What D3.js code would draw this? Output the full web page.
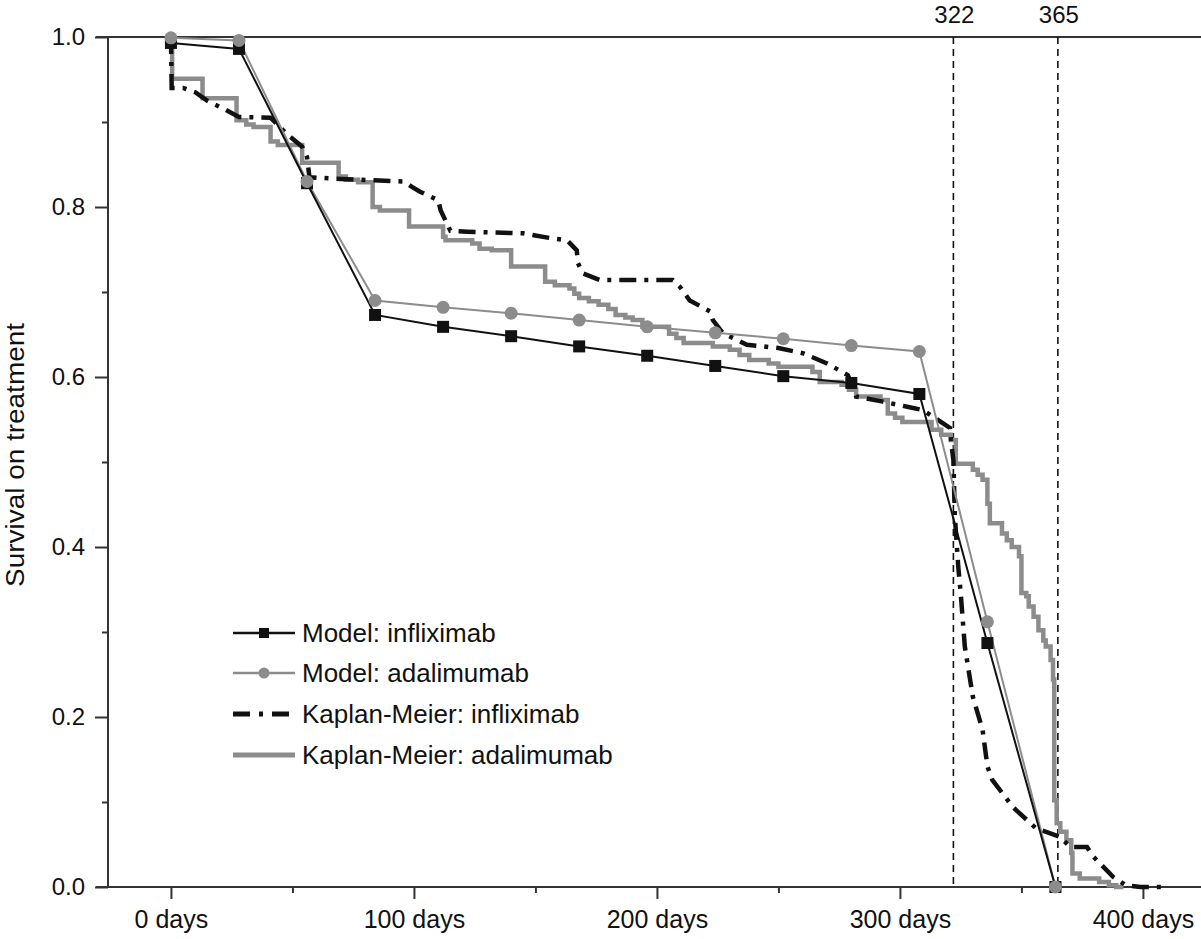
<html>
  <head>
    <script src="https://d3js.org/d3.v7.min.js"></script>
    <style>
      body { margin: 0; background: #fff; }
      text { font-family: "Liberation Sans", Arial, sans-serif; fill: #111; }
    </style>
  </head>
  <body>
    <div id="vis"></div>
    <script>
      // Model visits, every 28 days
      var modelDays = [0, 28, 56, 84, 112, 140, 168, 196, 224, 252, 280, 308, 336, 364];
      var modelInflix = [0.993, 0.986, 0.828, 0.673, 0.659, 0.648, 0.636, 0.625, 0.613, 0.601, 0.593, 0.580, 0.287, 0];
      var modelAdali = [0.999, 0.996, 0.830, 0.690, 0.682, 0.675, 0.667, 0.659, 0.652, 0.645, 0.637, 0.630, 0.312, 0];

      // Kaplan-Meier infliximab (day, survival)
      var kmInflixDays = [0, 0.3, 5, 10, 15, 20, 28, 41, 48, 54, 56, 57, 70, 96, 99, 102.5, 110, 111, 115, 122, 145, 157, 163, 167, 167.5, 169.5, 176.5, 206.5, 209.5, 213.5, 222, 223, 227, 237, 250, 260, 270, 278.6, 282, 293, 303, 309.5, 317, 320.6, 321, 322, 322.6, 324, 325, 326.7, 330, 334, 336, 338, 346.5, 356, 366, 370, 377, 379.5, 387.7, 393, 399, 410];
      var kmInflixSurv = [1.0, 0.94, 0.94, 0.935, 0.925, 0.918, 0.906, 0.905, 0.885, 0.871, 0.859, 0.835, 0.833, 0.830, 0.824, 0.818, 0.808, 0.796, 0.772, 0.771, 0.769, 0.763, 0.761, 0.749, 0.734, 0.722, 0.714, 0.714, 0.706, 0.690, 0.677, 0.667, 0.652, 0.638, 0.634, 0.628, 0.616, 0.602, 0.577, 0.571, 0.565, 0.561, 0.547, 0.540, 0.526, 0.502, 0.436, 0.377, 0.346, 0.283, 0.224, 0.185, 0.142, 0.126, 0.094, 0.069, 0.059, 0.047, 0.047, 0.036, 0.012, 0.002, 0, 0];

      // Kaplan-Meier adalimumab (event day, survival after the step)
      var kmAdaliDays = [0, 0.5, 13, 27, 31, 34, 41, 44, 54, 69, 72, 77, 83, 86, 98, 112, 113, 124, 127, 132, 140, 154, 158, 164, 166, 168, 172, 176, 180, 183, 187, 190, 194, 205, 208, 211, 223, 230, 234, 238, 246, 250, 264, 267, 276, 279, 282, 292, 295, 298, 301, 313, 317, 321, 323, 330, 332, 334, 336, 337, 342, 344, 346, 349, 350, 352, 353, 355, 357, 359, 360, 362, 363, 363.5, 364.5, 366, 368.5, 370.5, 371, 374, 382, 386, 389, 392];
      var kmAdaliSurv = [1.0, 0.951, 0.928, 0.902, 0.897, 0.894, 0.877, 0.873, 0.852, 0.836, 0.832, 0.829, 0.800, 0.796, 0.777, 0.765, 0.761, 0.757, 0.751, 0.749, 0.730, 0.712, 0.708, 0.704, 0.698, 0.693, 0.689, 0.685, 0.680, 0.673, 0.670, 0.667, 0.659, 0.651, 0.646, 0.640, 0.636, 0.632, 0.626, 0.620, 0.616, 0.612, 0.606, 0.594, 0.591, 0.585, 0.577, 0.573, 0.557, 0.552, 0.547, 0.538, 0.532, 0.526, 0.498, 0.491, 0.485, 0.479, 0.451, 0.428, 0.416, 0.408, 0.400, 0.389, 0.346, 0.342, 0.330, 0.318, 0.302, 0.290, 0.283, 0.267, 0.244, 0.102, 0.075, 0.065, 0.055, 0.040, 0.016, 0.010, 0.006, 0.002, 0, 0];

      var xMajor = [0, 100, 200, 300, 400];
      var xMinor = [50, 150, 250, 350];
      var yMajor = [0, 0.2, 0.4, 0.6, 0.8, 1.0];
      var yMinor = [0.1, 0.3, 0.5, 0.7, 0.9];
      var markDays = [322, 365];

      var legendLabels = ["Model: infliximab", "Model: adalimumab", "Kaplan-Meier: infliximab", "Kaplan-Meier: adalimumab"];

      var width = 1201, height = 939;
      var plotLeft = 108, plotTop = 37, plotBottom = 887, plotRight = 1201;

      var svg = d3.select("#vis").append("svg")
        .attr("width", width)
        .attr("height", height);

      var x = d3.scaleLinear().domain([-25.9, 423.9]).range([plotLeft, plotRight]);
      var y = d3.scaleLinear().domain([0, 1]).range([plotBottom, plotTop]);

      var axisColor = "#333";

      // x axis ticks
      var gx = svg.append("g").attr("transform", "translate(0," + plotBottom + ")");
      gx.call(d3.axisBottom(x).tickValues(xMajor).tickSize(12).tickSizeOuter(0).tickPadding(11)
        .tickFormat(function (d) { return d + " days"; }));
      gx.append("g").call(d3.axisBottom(x).tickValues(xMinor).tickSize(6).tickSizeOuter(0).tickFormat(""));

      // y axis ticks
      var gy = svg.append("g").attr("transform", "translate(" + plotLeft + ",0)");
      gy.call(d3.axisLeft(y).tickValues(yMajor).tickSize(13).tickSizeOuter(0).tickPadding(10)
        .tickFormat(d3.format(".1f")));
      gy.append("g").call(d3.axisLeft(y).tickValues(yMinor).tickSize(6).tickSizeOuter(0).tickFormat(""));

      svg.selectAll(".domain").remove();
      svg.selectAll(".tick line").attr("stroke", axisColor).attr("stroke-width", 2);
      svg.selectAll(".tick text").attr("fill", "#111").style("font-size", "25px")
        .style("font-family", '"Liberation Sans", Arial, sans-serif');
      gy.selectAll(".tick text").style("font-size", "24px");

      // frame lines
      svg.append("line").attr("x1", 96).attr("x2", plotRight).attr("y1", plotBottom).attr("y2", plotBottom)
        .attr("stroke", axisColor).attr("stroke-width", 2);
      svg.append("line").attr("x1", 96).attr("x2", plotRight).attr("y1", plotTop).attr("y2", plotTop)
        .attr("stroke", axisColor).attr("stroke-width", 2);
      svg.append("line").attr("x1", plotLeft).attr("x2", plotLeft).attr("y1", plotTop).attr("y2", plotBottom)
        .attr("stroke", axisColor).attr("stroke-width", 2);

      // y label
      svg.append("text")
        .attr("transform", "translate(24,455) rotate(-90)")
        .attr("text-anchor", "middle")
        .attr("textLength", 264)
        .attr("lengthAdjust", "spacingAndGlyphs")
        .style("font-size", "25px")
        .text("Survival on treatment");

      // reference lines at 322 and 365 days
      svg.selectAll(".mark").data(markDays).enter().append("line")
        .attr("x1", function (d) { return x(d); })
        .attr("x2", function (d) { return x(d); })
        .attr("y1", plotTop).attr("y2", plotBottom)
        .attr("stroke", "#111").attr("stroke-width", 1.6)
        .attr("stroke-dasharray", "7,5");
      svg.selectAll(".marklab").data(markDays).enter().append("text")
        .attr("x", function (d) { return x(d) + 1; })
        .attr("y", 23)
        .attr("text-anchor", "middle")
        .style("font-size", "24px")
        .text(function (d) { return d; });

      var line = d3.line()
        .x(function (d) { return x(d[0]); })
        .y(function (d) { return y(d[1]); });

      var kmAdali = kmAdaliDays.map(function (d, i) { return [d, kmAdaliSurv[i]]; });
      var kmInflix = kmInflixDays.map(function (d, i) { return [d, kmInflixSurv[i]]; });
      var mInflix = modelDays.map(function (d, i) { return [d, modelInflix[i]]; });
      var mAdali = modelDays.map(function (d, i) { return [d, modelAdali[i]]; });

      var grey = "#8c8c8c";

      // Kaplan-Meier adalimumab (step)
      svg.append("path").datum(kmAdali)
        .attr("d", d3.line().curve(d3.curveStepAfter)
          .x(function (d) { return x(d[0]); })
          .y(function (d) { return y(d[1]); }))
        .attr("fill", "none").attr("stroke", grey).attr("stroke-width", 4.5);

      // Kaplan-Meier infliximab (dash-dot)
      svg.append("path").datum(kmInflix)
        .attr("d", line)
        .attr("fill", "none").attr("stroke", "#111").attr("stroke-width", 4.5)
        .attr("stroke-dasharray", "17,8,4,8");

      // model lines
      svg.append("path").datum(mAdali).attr("d", line)
        .attr("fill", "none").attr("stroke", grey).attr("stroke-width", 2);
      svg.append("path").datum(mInflix).attr("d", line)
        .attr("fill", "none").attr("stroke", "#111").attr("stroke-width", 2);

      // markers
      svg.selectAll(".sq").data(mInflix).enter().append("rect")
        .attr("x", function (d) { return x(d[0]) - 6; })
        .attr("y", function (d) { return y(d[1]) - 6; })
        .attr("width", 12).attr("height", 12)
        .attr("fill", "#111");
      svg.selectAll(".ci").data(mAdali).enter().append("circle")
        .attr("cx", function (d) { return x(d[0]); })
        .attr("cy", function (d) { return y(d[1]); })
        .attr("r", 6.5)
        .attr("fill", grey);

      // legend
      var legendY = [633, 673, 714, 755];
      var lg = svg.selectAll(".lg").data(legendLabels).enter().append("g")
        .attr("transform", function (d, i) { return "translate(233," + legendY[i] + ")"; });
      lg.append("text")
        .attr("x", 69).attr("y", 9)
        .style("font-size", "26px")
        .text(function (d) { return d; });

      var l0 = d3.select(lg.nodes()[0]);
      l0.append("line").attr("x1", 0).attr("x2", 62).attr("stroke", "#111").attr("stroke-width", 2.5);
      l0.append("rect").attr("x", 26).attr("y", -5).attr("width", 10).attr("height", 10).attr("fill", "#111");
      var l1 = d3.select(lg.nodes()[1]);
      l1.append("line").attr("x1", 0).attr("x2", 62).attr("stroke", grey).attr("stroke-width", 2.5);
      l1.append("circle").attr("cx", 31).attr("r", 5.5).attr("fill", grey);
      var l2 = d3.select(lg.nodes()[2]);
      l2.append("line").attr("x1", 0).attr("x2", 62).attr("stroke", "#111").attr("stroke-width", 5)
        .attr("stroke-dasharray", "17,9,4,9");
      var l3 = d3.select(lg.nodes()[3]);
      l3.append("line").attr("x1", 0).attr("x2", 62).attr("stroke", grey).attr("stroke-width", 5);
    </script>
  </body>
</html>
